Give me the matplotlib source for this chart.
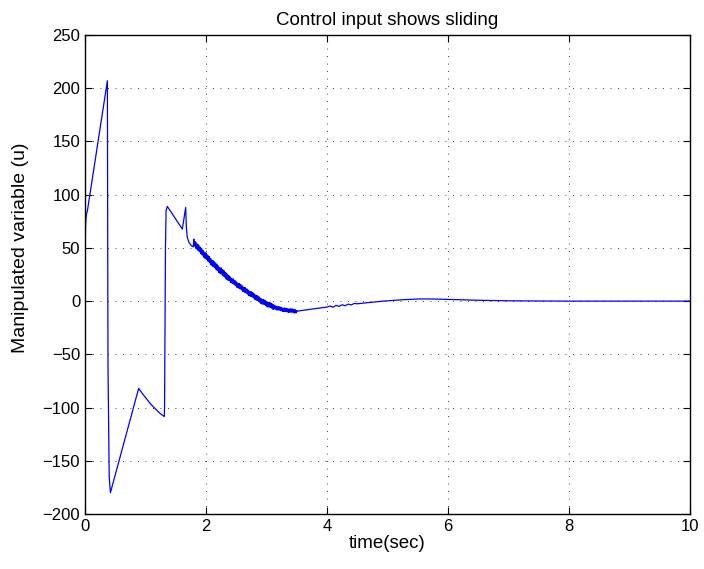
import matplotlib
matplotlib.use("Agg")
import matplotlib.pyplot as plt
import numpy as np

plt.rcParams['font.family'] = ['Liberation Sans', 'DejaVu Sans']

# smooth start: switching phases before sliding
t_start = [0.0, 0.003, 0.008, 0.015, 0.025, 0.04, 0.37, 0.372, 0.38, 0.40, 0.42,
           0.887, 0.95, 1.02, 1.09, 1.16, 1.23, 1.31, 1.315, 1.33, 1.34, 1.36,
           1.609, 1.664, 1.675, 1.69, 1.72, 1.76, 1.79, 1.80]
u_start = [0.0, 40.0, 68.0, 77.0, 82.0, 85.0, 207.0, 150.0, -60.0, -165.0, -180.0,
           -82.0, -87.0, -92.0, -97.0, -101.0, -105.0, -108.5, -100.0, 50.0, 85.0, 89.0,
           67.7, 88.0, 70.0, 60.0, 55.0, 52.0, 51.0, 57.8]

# chattering (sliding) phase
t_chatter = [1.8000, 1.8125, 1.8250, 1.8375, 1.8500, 1.8625, 1.8750, 1.8875, 1.9000, 1.9125,
             1.9250, 1.9375, 1.9500, 1.9625, 1.9750, 1.9875, 2.0000, 2.0125, 2.0250, 2.0375,
             2.0500, 2.0625, 2.0750, 2.0875, 2.1000, 2.1125, 2.1250, 2.1375, 2.1500, 2.1625,
             2.1750, 2.1875, 2.2000, 2.2125, 2.2250, 2.2375, 2.2500, 2.2625, 2.2750, 2.2875,
             2.3000, 2.3125, 2.3250, 2.3375, 2.3500, 2.3625, 2.3750, 2.3875, 2.4000, 2.4125,
             2.4250, 2.4375, 2.4500, 2.4625, 2.4750, 2.4875, 2.5000, 2.5125, 2.5250, 2.5375,
             2.5500, 2.5625, 2.5750, 2.5875, 2.6000, 2.6125, 2.6250, 2.6375, 2.6500, 2.6625,
             2.6750, 2.6875, 2.7000, 2.7125, 2.7250, 2.7375, 2.7500, 2.7625, 2.7750, 2.7875,
             2.8000, 2.8125, 2.8250, 2.8375, 2.8500, 2.8625, 2.8750, 2.8875, 2.9000, 2.9125,
             2.9250, 2.9375, 2.9500, 2.9625, 2.9750, 2.9875, 3.0000, 3.0125, 3.0250, 3.0375,
             3.0500, 3.0625, 3.0750, 3.0875, 3.1000, 3.1125, 3.1250, 3.1375, 3.1500, 3.1625,
             3.1750, 3.1875, 3.2000, 3.2125, 3.2250, 3.2375, 3.2500, 3.2625, 3.2750, 3.2875,
             3.3000, 3.3125, 3.3250, 3.3375, 3.3500, 3.3625, 3.3750, 3.3875, 3.4000, 3.4125,
             3.4250, 3.4375, 3.4500, 3.4625, 3.4750, 3.4875, 3.5000]
u_chatter = [57.8, 51.9, 55.6, 49.5, 53.6, 48.1, 52.7, 46.9, 50.6, 44.9,
             49.3, 43.6, 47.4, 41.4, 45.6, 40.3, 45.0, 39.3, 43.1, 37.4,
             41.8, 36.1, 39.9, 33.9, 38.1, 32.8, 37.6, 31.9, 35.8, 30.2,
             34.7, 29.0, 32.9, 27.0, 31.3, 26.1, 31.0, 25.4, 29.3, 23.7,
             28.3, 22.7, 26.6, 20.7, 25.1, 19.9, 23.9, 19.3, 22.5, 17.6,
             21.1, 16.8, 20.6, 16.1, 19.3, 14.8, 18.0, 13.1, 16.7, 12.5,
             16.4, 11.9, 15.2, 10.7, 14.0, 9.1, 12.7, 8.5, 12.4, 7.9,
             11.2, 6.7, 10.0, 5.2, 8.8, 4.7, 8.6, 4.2, 7.6, 3.2,
             6.5, 1.6, 5.2, 1.0, 4.9, 0.4, 3.7, -0.8, 2.5, -2.3,
             1.5, -2.6, 1.4, -3.0, 0.5, -3.9, -0.5, -5.2, -1.4, -5.4,
             -1.3, -5.7, -2.2, -6.5, -3.0, -7.7, -4.0, -7.0, -4.6, -8.0,
             -5.4, -8.2, -5.3, -8.3, -5.8, -8.7, -6.2, -9.5, -6.9, -9.6,
             -6.6, -9.5, -7.0, -9.8, -7.3, -10.5, -7.7, -10.3, -7.3, -10.2,
             -7.6, -10.4, -7.9, -11.0, -8.3, -10.9, -9.5]

# settling tail
t_tail = [3.50, 3.75, 4.0, 4.05, 4.1, 4.15, 4.2, 4.25, 4.3, 4.35, 4.4, 4.45, 4.5,
          4.75, 5.0, 5.25, 5.5, 5.75, 6.0, 6.5, 7.0, 7.5, 8.0, 9.0, 10.0]
u_tail = [-9.5, -7.5, -5.6, -4.6, -5.8, -4.0, -5.0, -3.4, -4.4, -2.8, -3.6, -2.2, -2.5,
          -1.0, 0.3, 1.3, 2.0, 2.0, 1.6, 0.8, 0.3, 0.1, 0.0, 0.0, 0.0]

x_ticks = [0, 2, 4, 6, 8, 10]
y_ticks = [-200, -150, -100, -50, 0, 50, 100, 150, 200, 250]

line_color = (0, 0, 1)

fig = plt.figure(figsize=(7.04, 5.69), dpi=100)
ax = fig.add_axes([85/704, 1-514/569, (690-85)/704, (514-35)/569])
ax.plot(t_start, u_start, color=line_color, linewidth=0.9)
ax.plot(t_chatter, u_chatter, color=line_color, linewidth=1.2)
ax.plot(t_tail, u_tail, color=line_color, linewidth=0.9)

ax.set_xlim(0, 10)
ax.set_ylim(-200, 250)
ax.set_xticks(x_ticks)
ax.set_yticks(y_ticks)
ax.grid(True, linestyle=(0, (1, 8)), color='black', linewidth=0.6)
ax.tick_params(direction='in', top=True, right=True, labelsize=12, length=5, width=0.8)
for s in ax.spines.values():
    s.set_linewidth(1.0)

ax.set_xlabel('time(sec)', fontsize=13.5, labelpad=1)
ax.set_ylabel('Manipulated variable (u)', fontsize=14, labelpad=4)
ax.yaxis.set_label_coords(-0.093, 0.555)
ax.set_title('Control input shows sliding', fontsize=13.5, pad=7)

fig.savefig('out.png', dpi=100)
